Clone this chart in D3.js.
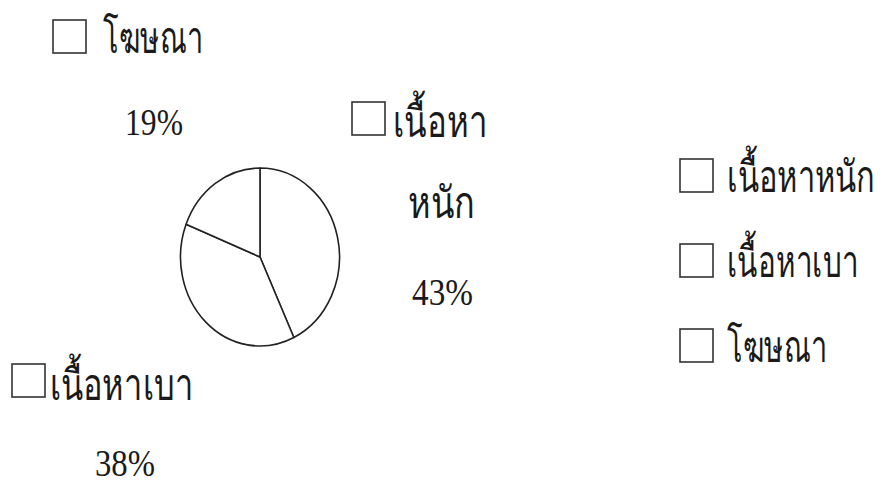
<!DOCTYPE html>
<html>
<head>
<meta charset="utf-8">
<script src="https://cdn.jsdelivr.net/npm/d3@7"></script>
<style>
  html, body { margin: 0; padding: 0; background: #fff; }
  svg text { font-family: "Liberation Serif", "Times New Roman", serif; fill: #1a1a1a; }
</style>
</head>
<body>
<svg id="chart" width="888" height="484"></svg>
<script>
// Content categories and their share of the page (percent)
const categories = ["เนื้อหาหนัก", "เนื้อหาเบา", "โฆษณา"];
const values = [43, 38, 19];
const valueLabels = values.map(v => v + "%");

const svg = d3.select("#chart");
const ink = "#222";

// Pie is drawn on a unit circle, then stretched into an ellipse
const cx = 260, cy = 257, rx = 79.5, ry = 89;
const R = 100;
const pie = d3.pie().sort(null).value(d => d)(values);
const arc = d3.arc().innerRadius(0).outerRadius(R);

const pieG = svg.append("g")
  .attr("transform", `translate(${cx},${cy}) scale(${rx / R},${ry / R})`);
pieG.selectAll("path")
  .data(pie)
  .join("path")
  .attr("d", arc)
  .attr("fill", "#fff")
  .attr("stroke", ink)
  .attr("stroke-width", 1.6)
  .attr("vector-effect", "non-scaling-stroke")
  .attr("stroke-linejoin", "round");

// Places a text at (x, baseline y) and squeezes it horizontally to width w
function fitText(parent, str, x, y, w, size) {
  const g = parent.append("g").attr("transform", `translate(${x},${y})`);
  const t = g.append("text").attr("font-size", size).text(str);
  const natural = t.node().getComputedTextLength();
  if (natural > 0) t.attr("transform", `scale(${w / natural},1)`);
  return g;
}

// Data labels: a small box, the category name (wrapped) and the percentage
const labelLayout = [
  { // เนื้อหาหนัก
    box: [352, 102], lines: [
      { text: "เนื้อหา", x: 393, y: 137, w: 94 },
      { text: "หนัก", x: 408, y: 218, w: 67 }],
    pct: { x: 412, y: 305, w: 61 } },
  { // เนื้อหาเบา
    box: [12, 364], lines: [
      { text: categories[1], x: 50, y: 400, w: 143 }],
    pct: { x: 95, y: 476, w: 60 } },
  { // โฆษณา
    box: [53, 20], lines: [
      { text: categories[2], x: 103, y: 53, w: 100 }],
    pct: { x: 125, y: 135, w: 58 } }
];

const thaiSize = 44, numSize = 38, boxSize = 33;

labelLayout.forEach((lay, i) => {
  const g = svg.append("g");
  g.append("rect")
    .attr("x", lay.box[0]).attr("y", lay.box[1])
    .attr("width", boxSize).attr("height", boxSize)
    .attr("fill", "#fff").attr("stroke", "#333").attr("stroke-width", 1.6);
  lay.lines.forEach(l => fitText(g, l.text, l.x, l.y, l.w, thaiSize));
  fitText(g, valueLabels[i], lay.pct.x, lay.pct.y, lay.pct.w, numSize);
});

// Legend on the right
const legendX = 680, legendTop = 159, legendStep = 85;
const legendWidths = [148, 130, 100];
const legend = svg.append("g");
categories.forEach((c, i) => {
  const y0 = legendTop + i * legendStep;
  legend.append("rect")
    .attr("x", legendX).attr("y", y0)
    .attr("width", boxSize).attr("height", boxSize)
    .attr("fill", "#fff").attr("stroke", "#333").attr("stroke-width", 1.6);
  fitText(legend, c, legendX + 47, y0 + boxSize, legendWidths[i], thaiSize);
});
</script>
</body>
</html>
